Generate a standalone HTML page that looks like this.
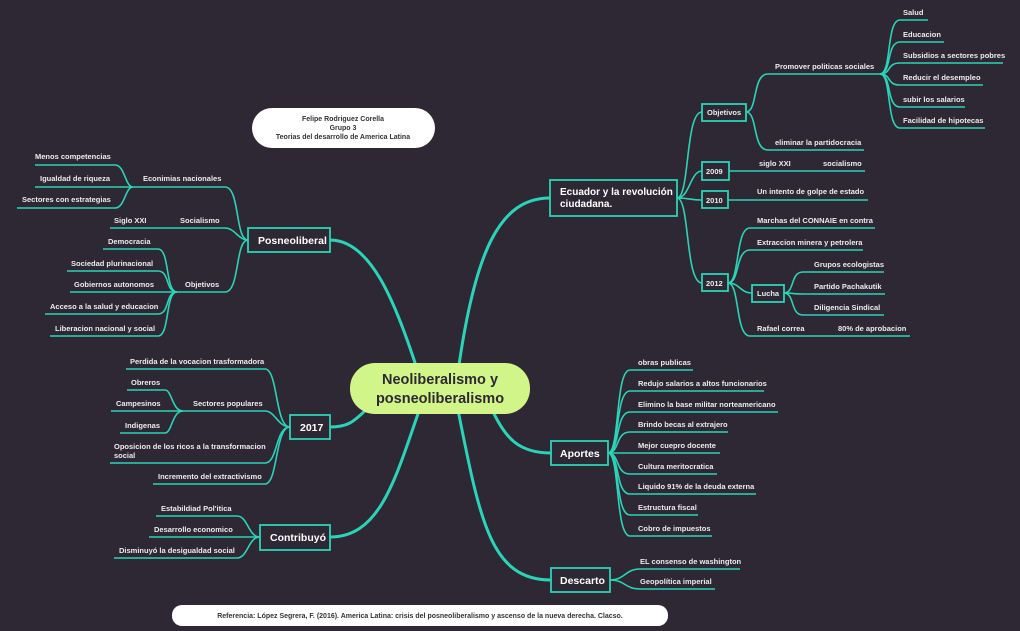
<!DOCTYPE html>
<html><head><meta charset="utf-8"><style>
html,body{margin:0;padding:0;background:#2d2833;}
svg{display:block}
text{font-family:"Liberation Sans",sans-serif;font-weight:bold;fill:#ececec;font-size:7.5px}
.b{font-size:10.5px;fill:#fff}
.l path{fill:none;stroke:#2bd4b8;stroke-width:1.6}
.m path{fill:none;stroke:#2bd4b8;stroke-width:3}
rect.bx{fill:#2d2833;stroke:#2bd4b8;stroke-width:1.8}
</style></head><body>
<svg width="1020" height="631" viewBox="0 0 1020 631">
<rect width="1020" height="631" fill="#2d2833"/>
<g class="m">
<path d="M330 240 C370 240 395 300 418 372"/>
<path d="M458 372 C475 250 500 198 550 198"/>
<path d="M330 427 C350 427 355 420 368 408"/>
<path d="M330 537 C380 537 395 480 420 408"/>
<path d="M490 405 C505 440 520 453 551 453"/>
<path d="M457 405 C480 520 490 580 551 580"/>
</g>
<g class="l">
<path d="M677 198 C690 198 685 112 702 112"/>
<path d="M677 198 C690 198 690 171 702 171"/>
<path d="M677 198 C690 198 690 200 702 200"/>
<path d="M677 198 C690 198 685 283 702 283"/>
<path d="M746 112 C758 112 752 74 768 74 L880 74"/>
<path d="M746 112 C758 112 752 150 768 150 L864 150"/>
<path d="M880 74 C892 74 886 20 900 20 L928 20"/>
<path d="M880 74 C892 74 886 42 900 42 L944 42"/>
<path d="M880 74 C892 74 886 63 900 63 L1003 63"/>
<path d="M880 74 C892 74 886 85 900 85 L983 85"/>
<path d="M880 74 C892 74 886 107 900 107 L965 107"/>
<path d="M880 74 C892 74 886 128 900 128 L985 128"/>
<path d="M729 171 L865 171"/>
<path d="M728 200 L868 200"/>
<path d="M728 283 C740 283 735 228 750 228 L875 228"/>
<path d="M728 283 C740 283 735 250 750 250 L863 250"/>
<path d="M728 283 C740 283 740 293 752 293"/>
<path d="M728 283 C740 283 735 336 750 336 L910 336"/>
<path d="M784 293 C795 293 790 272 803 272 L884 272"/>
<path d="M784 293 C795 293 790 294 803 294 L885 294"/>
<path d="M784 293 C795 293 790 315 803 315 L884 315"/>
<path d="M248 240 C235 240 240 187 225 187 L133 187"/>
<path d="M248 240 C238 240 235 228 225 228 L110 228"/>
<path d="M248 240 C235 240 240 292 225 292 L177 292"/>
<path d="M133 187 C125 187 125 165 115 165 L35 165"/>
<path d="M133 187 L35 187"/>
<path d="M133 187 C125 187 125 208 115 208 L17 208"/>
<path d="M177 292 C165 292 170 249 158 249 L103 249"/>
<path d="M177 292 C165 292 170 271 158 271 L67 271"/>
<path d="M177 292 L70 292"/>
<path d="M177 292 C165 292 170 314 158 314 L45 314"/>
<path d="M177 292 C165 292 170 336 158 336 L50 336"/>
<path d="M290 427 C275 427 278 369 265 369 L126 369"/>
<path d="M290 427 C278 427 275 411 265 411 L183 411"/>
<path d="M290 427 C275 427 278 463 265 463 L110 463"/>
<path d="M290 427 C275 427 278 484 265 484 L153 484"/>
<path d="M183 411 C172 411 172 390 165 390 L127 390"/>
<path d="M183 411 L111 411"/>
<path d="M183 411 C172 411 172 433 165 433 L120 433"/>
<path d="M260 537 C248 537 248 516 237 516 L156 516"/>
<path d="M260 537 L149 537"/>
<path d="M260 537 C248 537 248 558 237 558 L114 558"/>
<path d="M608 453 C620 453 615 370 630 370 L693 370"/>
<path d="M608 453 C620 453 615 391 630 391 L764 391"/>
<path d="M608 453 C620 453 615 412 630 412 L778 412"/>
<path d="M608 453 C620 453 615 432 630 432 L728 432"/>
<path d="M608 453 L720 453"/>
<path d="M608 453 C620 453 615 474 630 474 L717 474"/>
<path d="M608 453 C620 453 615 494 630 494 L756 494"/>
<path d="M608 453 C620 453 615 515 630 515 L698 515"/>
<path d="M608 453 C620 453 615 536 630 536 L712 536"/>
<path d="M610 580 C625 580 625 569 640 569 L740 569"/>
<path d="M610 580 C625 580 625 589 640 589 L715 589"/>
</g>
<rect x="350" y="363" width="180" height="51" rx="25" fill="#d2f58a"/>
<text x="440" y="384" text-anchor="middle" style="font-size:14.5px;fill:#2d2833">Neoliberalismo  y</text>
<text x="440" y="403" text-anchor="middle" style="font-size:14.5px;fill:#2d2833">posneoliberalismo</text>
<rect x="252" y="108" width="183" height="40" rx="20" fill="#fff"/>
<text x="343" y="121" text-anchor="middle" style="font-size:7px;fill:#333">Felipe Rodriguez Corella</text>
<text x="343" y="130" text-anchor="middle" style="font-size:7px;fill:#333">Grupo 3</text>
<text x="343" y="139" text-anchor="middle" style="font-size:7px;fill:#333">Teorias del desarrollo de America Latina</text>
<rect x="172" y="605" width="496" height="21" rx="10" fill="#fff"/>
<text x="420" y="618" text-anchor="middle" style="font-size:7px;fill:#333">Referencia: López Segrera, F. (2016). America Latina: crisis del posneoliberalismo y ascenso de la nueva derecha. Clacso.</text>
<rect class="bx" x="550" y="180" width="127" height="36"/>
<text class="b" x="560" y="195" style="font-size:10px">Ecuador y la revolución</text>
<text class="b" x="560" y="207" style="font-size:10px">ciudadana.</text>
<rect class="bx" x="702" y="104" width="44" height="17"/><text x="707" y="115">Objetivos</text>
<rect class="bx" x="702" y="162" width="27" height="18"/><text x="706" y="174">2009</text>
<rect class="bx" x="702" y="191" width="26" height="17"/><text x="706" y="203">2010</text>
<rect class="bx" x="702" y="274" width="26" height="17"/><text x="706" y="286">2012</text>
<rect class="bx" x="752" y="285" width="32" height="17"/><text x="757" y="296">Lucha</text>
<rect class="bx" x="248" y="228" width="82" height="24"/><text class="b" x="258" y="244">Posneoliberal</text>
<rect class="bx" x="290" y="415" width="40" height="24"/><text class="b" x="300" y="431">2017</text>
<rect class="bx" x="260" y="525" width="70" height="25"/><text class="b" x="270" y="541">Contribuyó</text>
<rect class="bx" x="551" y="441" width="57" height="24"/><text class="b" x="560" y="457">Aportes</text>
<rect class="bx" x="551" y="568" width="59" height="24"/><text class="b" x="560" y="584">Descarto</text>
<text x="775" y="69">Promover politicas sociales</text>
<text x="775" y="145">eliminar la partidocracia</text>
<text x="903" y="15">Salud</text>
<text x="903" y="37">Educacion</text>
<text x="903" y="58">Subsidios a sectores pobres</text>
<text x="903" y="80">Reducir el desempleo</text>
<text x="903" y="102">subir los salarios</text>
<text x="903" y="123">Facilidad de hipotecas</text>
<text x="759" y="166">siglo XXI</text><text x="823" y="166">socialismo</text>
<text x="757" y="194">Un intento de golpe de estado</text>
<text x="757" y="223">Marchas  del CONNAIE en contra</text>
<text x="757" y="245">Extraccion minera y petrolera</text>
<text x="814" y="267">Grupos ecologistas</text>
<text x="814" y="289">Partido Pachakutik</text>
<text x="814" y="310">Diligencia Sindical</text>
<text x="757" y="331">Rafael correa</text><text x="838" y="331">80% de aprobacion</text>
<text x="638" y="365">obras publicas</text>
<text x="638" y="386">Redujo salarios a altos funcionarios</text>
<text x="638" y="407">Elimino la base militar norteamericano</text>
<text x="638" y="427">Brindo becas al extrajero</text>
<text x="638" y="448">Mejor cuepro docente</text>
<text x="638" y="469">Cultura meritocratica</text>
<text x="638" y="489">Liquido 91% de la deuda externa</text>
<text x="638" y="510">Estructura fiscal</text>
<text x="638" y="531">Cobro de impuestos</text>
<text x="640" y="564">EL consenso de washington</text>
<text x="640" y="584">Geopolítica imperial</text>
<text x="143" y="181">Econimias nacionales</text>
<text x="35" y="159">Menos competencias</text>
<text x="40" y="181">Igualdad de riqueza</text>
<text x="22" y="202">Sectores  con estrategias</text>
<text x="114" y="223">Siglo XXI</text><text x="180" y="223">Socialismo</text>
<text x="185" y="287">Objetivos</text>
<text x="108" y="244">Democracia</text>
<text x="71" y="266">Sociedad plurinacional</text>
<text x="74" y="287">Gobiernos autonomos</text>
<text x="50" y="309">Acceso a la salud y educacion</text>
<text x="55" y="331">Liberacion nacional y social</text>
<text x="130" y="364">Perdida de la vocacion trasformadora</text>
<text x="131" y="385">Obreros</text>
<text x="193" y="406">Sectores populares</text>
<text x="116" y="406">Campesinos</text>
<text x="125" y="428">Indigenas</text>
<text x="114" y="449">Oposicion de los ricos a la transformacion</text>
<text x="114" y="458">social</text>
<text x="158" y="479">Incremento del extractivismo</text>
<text x="161" y="511">Estabildiad Pol'itica</text>
<text x="154" y="532">Desarrollo economico</text>
<text x="119" y="553">Disminuyó la desigualdad social</text>
</svg>
</body></html>
